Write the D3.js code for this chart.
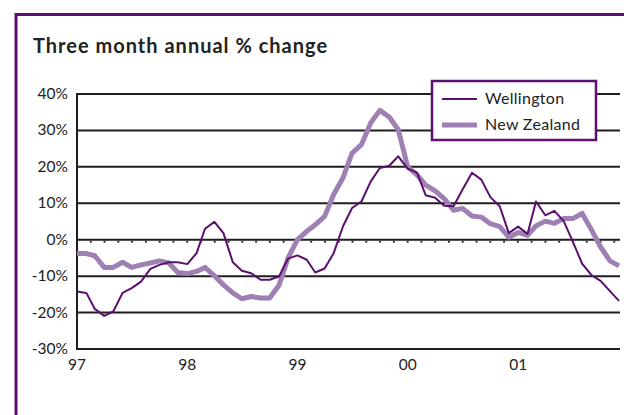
<!DOCTYPE html>
<html lang="en">
<head>
    <meta charset="UTF-8">
    <title>Three month annual % change</title>
    <script src="https://cdn.jsdelivr.net/npm/d3@7"></script>
    <style>
        body { margin: 0; background: #fff; }
        svg { display: block; font-family: Lato, "Open Sans", sans-serif; }
        .grid line { stroke: #1e1e1e; stroke-width: 2px; }
        .ylab, .xlab { font-size: 15.5px; fill: #222; }
        .legend text { font-size: 16px; fill: #222; letter-spacing: 0.3px; }
    </style>
</head>
<body>
    <svg width="624" height="415"></svg>

    <script>
        // monthly data, Jan 1997 - Dec 2001
        const startYear = 1997;
        const wellington = [
            -14.2, -14.6, -19.0, -20.9, -19.7, -14.6, -13.3, -11.5, -8.0, -6.9, -6.2, -6.2,
            -6.7, -3.7, 3.0, 4.9, 1.8, -6.2, -8.5, -9.2, -11.0, -11.0, -10.1, -5.2,
            -4.3, -5.5, -9.0, -7.9, -3.7, 3.7, 8.7, 10.5, 16.0, 19.7, 20.3, 22.9,
            19.5, 18.4, 12.2, 11.5, 9.3, 9.2, 13.8, 18.4, 16.5, 11.7, 9.2, 1.8,
            3.6, 1.6, 10.5, 6.7, 7.9, 5.1, -0.5, -6.6, -9.7, -11.3, -14.1, -16.8
        ];
        const newZealand = [
            -3.8, -3.8, -4.4, -7.6, -7.6, -6.2, -7.6, -6.9, -6.4, -5.8, -6.4, -9.0,
            -9.3, -8.7, -7.6, -9.9, -12.4, -14.6, -16.2, -15.6, -16.0, -16.0, -12.5, -5.0,
            0.0, 2.3, 4.1, 6.4, 12.4, 17.0, 23.8, 26.1, 32.1, 35.5, 33.7, 30.2,
            20.0, 17.8, 15.0, 13.4, 11.3, 8.1, 8.6, 6.5, 6.2, 4.4, 3.6, 0.7,
            2.0, 1.2, 3.8, 5.1, 4.5, 5.8, 5.8, 7.2, 2.7, -2.0, -5.8, -7.2
        ];
        const yTicks = [40, 30, 20, 10, 0, -10, -20, -30];
        const yearLabels = ["97", "98", "99", "00", "01"];
        const seriesNames = ["Wellington", "New Zealand"];

        const purple = "#5c1070";
        const colors = ["#5b0f6e", "#9e80b3"];
        const widths = [2, 5];

        const svg = d3.select("svg");

        // outer frame (runs off the page on right and bottom)
        svg.append("rect")
            .attr("x", 16).attr("y", 14.5)
            .attr("width", 700).attr("height", 500)
            .attr("fill", "none")
            .attr("stroke", purple)
            .attr("stroke-width", 3);

        svg.append("text")
            .attr("x", 33).attr("y", 53)
            .attr("font-size", 20)
            .attr("font-weight", "bold")
            .attr("letter-spacing", 1.0)
            .attr("fill", "#222")
            .text("Three month annual % change");

        const months = d3.range(wellington.length).map(i => new Date(startYear, i, 1));

        const x = d3.scaleTime()
            .domain([months[0], months[months.length - 1]])
            .range([77, 619]);
        const y = d3.scaleLinear()
            .domain([-30, 40])
            .range([349, 94]);

        // horizontal grid lines
        const grid = svg.append("g").attr("class", "grid");
        grid.selectAll("line")
            .data(yTicks)
            .enter().append("line")
            .attr("x1", 77).attr("x2", 620)
            .attr("y1", d => y(d)).attr("y2", d => y(d));

        // left axis line
        grid.append("line")
            .attr("x1", 77).attr("x2", 77)
            .attr("y1", y(40) - 1).attr("y2", y(-30) + 1);

        // dotted ticks under the zero line
        const dotStep = (x(new Date(startYear + 1, 0, 1)) - x(months[0])) / 8;
        svg.append("g").selectAll("rect")
            .data(d3.range(1, 40))
            .enter().append("rect")
            .attr("x", d => 77 + d * dotStep - 1)
            .attr("y", y(0) + 1)
            .attr("width", 2).attr("height", 2)
            .attr("fill", "#333");

        svg.append("g").selectAll("text")
            .data(yTicks)
            .enter().append("text")
            .attr("class", "ylab")
            .attr("x", 68)
            .attr("y", d => y(d) + 5)
            .attr("text-anchor", "end")
            .text(d => d + "%");

        svg.append("g").selectAll("text")
            .data(yearLabels)
            .enter().append("text")
            .attr("class", "xlab")
            .attr("x", (d, i) => x(new Date(startYear + i, 0, 1)))
            .attr("y", 370)
            .attr("text-anchor", "middle")
            .text(d => d);

        const line = d3.line()
            .x((d, i) => x(months[i]))
            .y(d => y(d));

        // NZ first so Wellington sits on top
        [newZealand, wellington].forEach((s, k) => {
            const j = 1 - k;
            svg.append("path")
                .datum(s)
                .attr("fill", "none")
                .attr("stroke", colors[j])
                .attr("stroke-width", widths[j])
                .attr("stroke-linejoin", "round")
                .attr("d", line);
        });

        // legend
        const legend = svg.append("g").attr("class", "legend");
        legend.append("rect")
            .attr("x", 432).attr("y", 81)
            .attr("width", 164).attr("height", 59)
            .attr("fill", "#fff")
            .attr("stroke", purple)
            .attr("stroke-width", 2.5);

        const items = legend.selectAll(".item")
            .data(seriesNames)
            .enter().append("g")
            .attr("transform", (d, i) => `translate(0,${99 + i * 26})`);

        items.append("line")
            .attr("x1", 442).attr("x2", 477)
            .attr("y1", 0).attr("y2", 0)
            .attr("stroke", (d, i) => colors[i])
            .attr("stroke-width", (d, i) => widths[i]);

        items.append("text")
            .attr("x", 485)
            .attr("y", 5)
            .text(d => d);
    </script>
</body>
</html>
